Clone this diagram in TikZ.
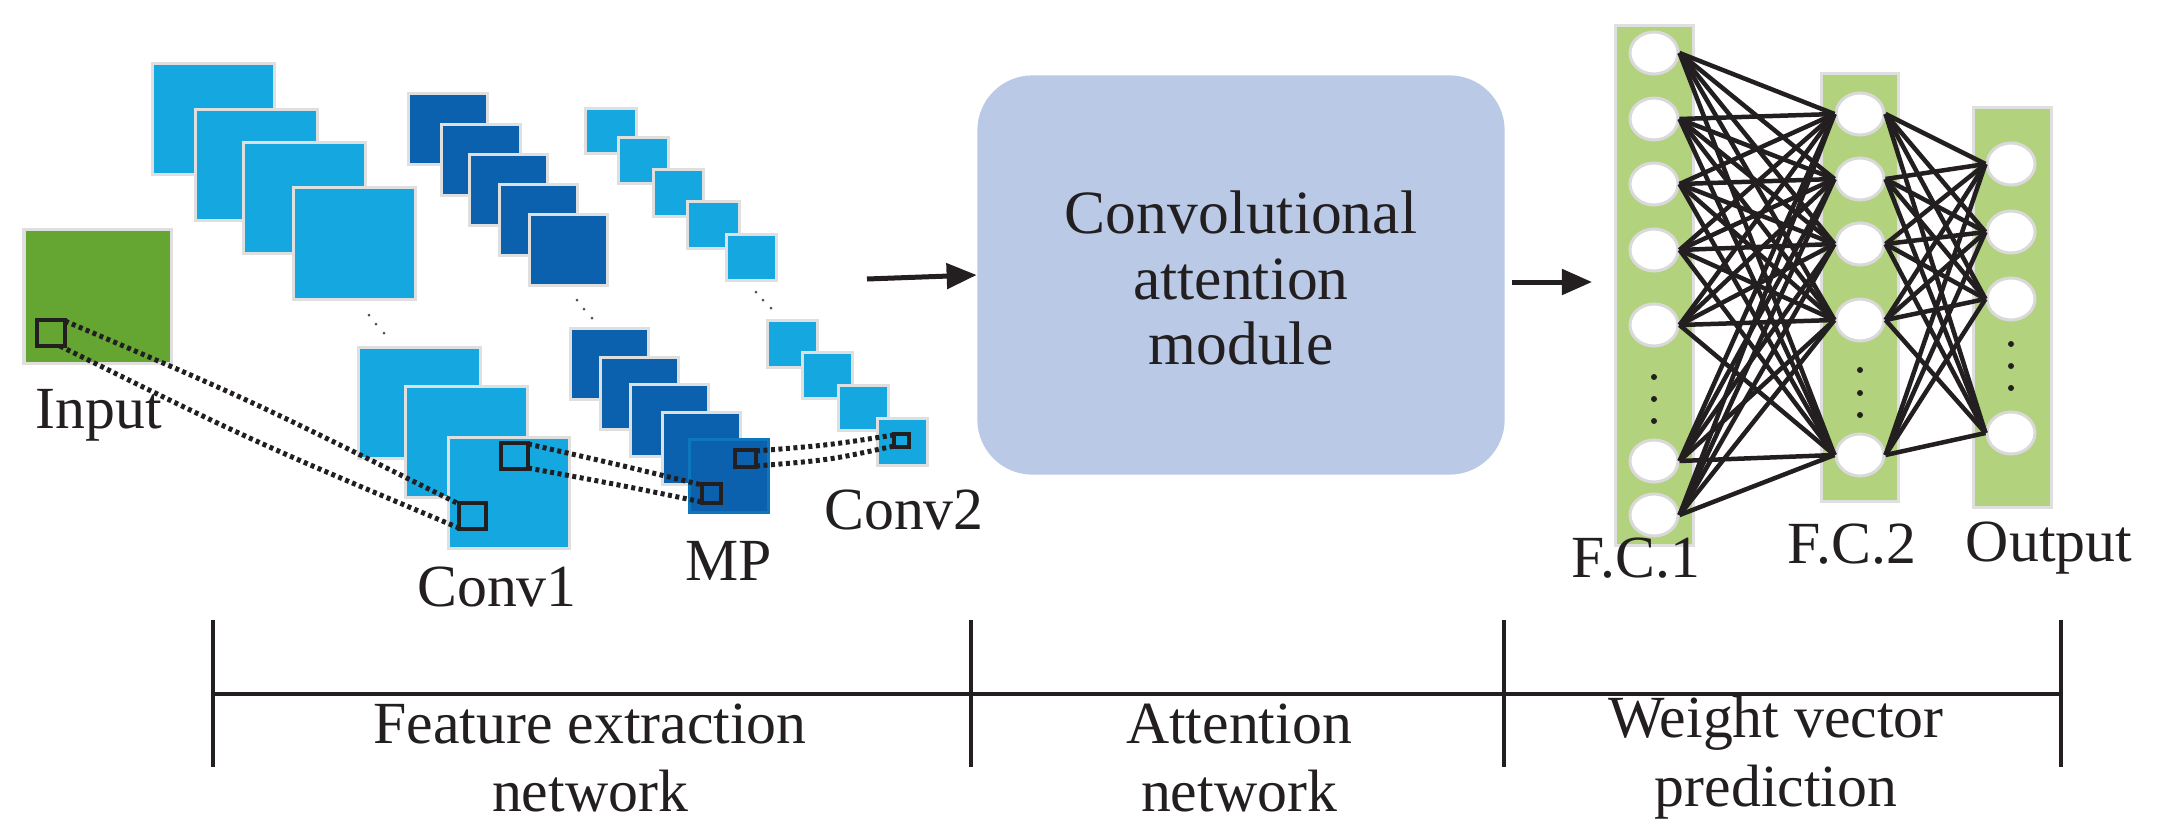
\documentclass[tikz,border=0pt]{standalone}
\usepackage{fontspec}
\setmainfont{Liberation Serif}
\usetikzlibrary{shapes.geometric,arrows.meta}
\definecolor{lb}{HTML}{14A7E0}
\definecolor{db}{HTML}{0B61AE}
\definecolor{gr}{HTML}{64A631}
\definecolor{lg}{HTML}{B2D27E}
\definecolor{att}{HTML}{B9C9E6}
\definecolor{ink}{HTML}{231F20}
\newcommand\mapr[5]{\filldraw[fm,fill=#1] (#2,#3) rectangle (#4,#5);}
\begin{document}
\begin{tikzpicture}[x=0.01cm,y=-0.01cm,
  fm/.style={draw=gray!25,line width=0.03cm},
  lbl/.style={font=\fontsize{17}{19.6}\selectfont,text=ink,align=center},
  sq/.style={draw=ink,line width=0.035cm},
  dl/.style={draw=ink,line width=0.05cm,dash pattern=on 0.04cm off 0.035cm},
  neu/.style={ellipse,fill=white,draw=gray!30,line width=0.03cm,minimum width=0.48cm,minimum height=0.42cm,inner sep=0pt},
  bar/.style={fill=lg,draw=gray!25,line width=0.03cm},
  con/.style={draw=ink,line width=0.045cm},
  dt/.style={circle,fill=ink,inner sep=0pt,minimum size=0.06cm},
  arr/.style={draw=ink,line width=0.05cm,-{Triangle[length=0.3cm,width=0.25cm]}}]
\useasboundingbox (0,0) rectangle (2159,836);
% input
\mapr{gr}{24}{229}{171}{363}
% conv1
\mapr{lb}{152}{63}{274}{174}
\mapr{lb}{195}{109}{317}{220}
\mapr{lb}{243}{142}{365}{253}
\mapr{lb}{293}{187}{415}{299}
\foreach \p in {(369,315),(376,324),(384,333)} \node[dt,minimum size=0.03cm,fill=ink!80] at \p {};
\mapr{lb}{358}{347}{480}{458}
\mapr{lb}{405}{386}{527}{497}
\mapr{lb}{448}{437}{569}{548}
% MP
\mapr{db}{408}{93}{487}{164}
\mapr{db}{441}{124}{520}{195}
\mapr{db}{469}{154}{547}{225}
\mapr{db}{499}{184}{577}{255}
\mapr{db}{529}{214}{607}{285}
\foreach \p in {(577,300),(584,309),(592,318)} \node[dt,minimum size=0.03cm,fill=ink!80] at \p {};
\mapr{db}{570}{328}{648}{399}
\mapr{db}{600}{357}{678}{429}
\mapr{db}{630}{384}{708}{456}
\mapr{db}{662}{412}{740}{484}
\filldraw[fill=db,draw=db!70!lb,line width=0.03cm] (689,439) rectangle (768,512);
% conv2
\mapr{lb}{585}{108}{636}{153}
\mapr{lb}{618}{137}{668}{183}
\mapr{lb}{653}{169}{703}{216}
\mapr{lb}{687}{201}{739}{248}
\mapr{lb}{726}{234}{776}{280}
\foreach \p in {(756,292),(763,300),(771,308)} \node[dt,minimum size=0.03cm,fill=ink!80] at \p {};
\mapr{lb}{767}{320}{817}{367}
\mapr{lb}{802}{352}{852}{398}
\mapr{lb}{838}{385}{888}{430}
\mapr{lb}{877}{418}{927}{465}
% receptive squares
\draw[sq] (37,320) rectangle (65,346);
\draw[sq] (459,503) rectangle (486,529);
\draw[sq] (501,443) rectangle (528,469);
\draw[sq] (702,484) rectangle (721,503);
\draw[sq] (735,450) rectangle (756,467);
\draw[sq] (894,434) rectangle (909,447);
% dotted projections
\draw[dl] (65,321) .. controls (250,400) .. (459,504);
\draw[dl] (60,346) .. controls (250,440) .. (459,528);
\draw[dl] (528,444) .. controls (620,465) .. (702,485);
\draw[dl] (528,468) .. controls (620,485) .. (702,502);
\draw[dl] (756,451) .. controls (830,445) .. (894,435);
\draw[dl] (756,466) .. controls (830,460) .. (894,446);
% labels
\node[lbl] (tin) at (99,415) {Input};
\node[lbl] (tc1) at (497,587) {Conv1};
\node[lbl] (tmp) at (729,561) {MP};
\node[lbl] (tc2) at (904,510) {Conv2};
% attention
\coordinate (a1s) at (867,279);
\node[fill=att,rounded corners=0.55cm,minimum width=5.27cm,minimum height=3.99cm] (att) at (1241,275) {};
\node[lbl,font=\fontsize{17.5}{18.5}\selectfont] (attt) at (1241,278) {Convolutional\\attention\\module};
\draw[arr] (a1s) -- (att.west);
% FC
\draw[bar] (1615,25) rectangle (1693,545);
\draw[bar] (1821,73) rectangle (1898,501);
\draw[bar] (1973,107) rectangle (2051,507);
\foreach \y [count=\i] in {53,119,184,250,325,461,515} \node[neu] (a\i) at (1654,\y) {};
\foreach \y [count=\i] in {114,179,244,320,455} \node[neu] (b\i) at (1860,\y) {};
\foreach \y [count=\i] in {164,232,299,433} \node[neu] (c\i) at (2011,\y) {};
\foreach \y in {377,399,421} \node[dt] at (1654,\y) {};
\foreach \y in {370,393,415} \node[dt] at (1860,\y) {};
\foreach \y in {344,366,388} \node[dt] at (2011,\y) {};
\foreach \i in {1,...,7} \foreach \j in {1,...,5} \draw[con] (a\i.east) -- (b\j.west);
\foreach \i in {1,...,5} \foreach \j in {1,...,4} \draw[con] (b\i.east) -- (c\j.west);
\coordinate (a2s) at (1512,282);
\coordinate (a2e) at (1592,282);
\draw[arr] (a2s) -- (a2e);
\node[lbl] (tf1) at (1636,558) {F.C.1};
\node[lbl] (tf2) at (1852,544) {F.C.2};
\node[lbl] (tout) at (2049,548) {Output};
% bottom bracket
\coordinate (t1) at (213,620); \coordinate (b1) at (213,767);
\coordinate (t2) at (971,620); \coordinate (b2) at (971,767);
\coordinate (t3) at (1504,620); \coordinate (b3) at (1504,767);
\coordinate (t4) at (2061,620); \coordinate (b4) at (2061,767);
\coordinate (h1) at (213,694); \coordinate (h2) at (2061,694);
\foreach \k in {1,...,4} \draw[ink,line width=0.045cm] (t\k) -- (b\k);
\draw[ink,line width=0.045cm] (h1) -- (h2);
\node[lbl] (l1) at (590,758) {Feature extraction\\network};
\node[lbl] (l2) at (1239,758) {Attention\\network};
\node[lbl] (l3) at (1776,758) {Weight vector\\prediction};
\end{tikzpicture}
\end{document}
